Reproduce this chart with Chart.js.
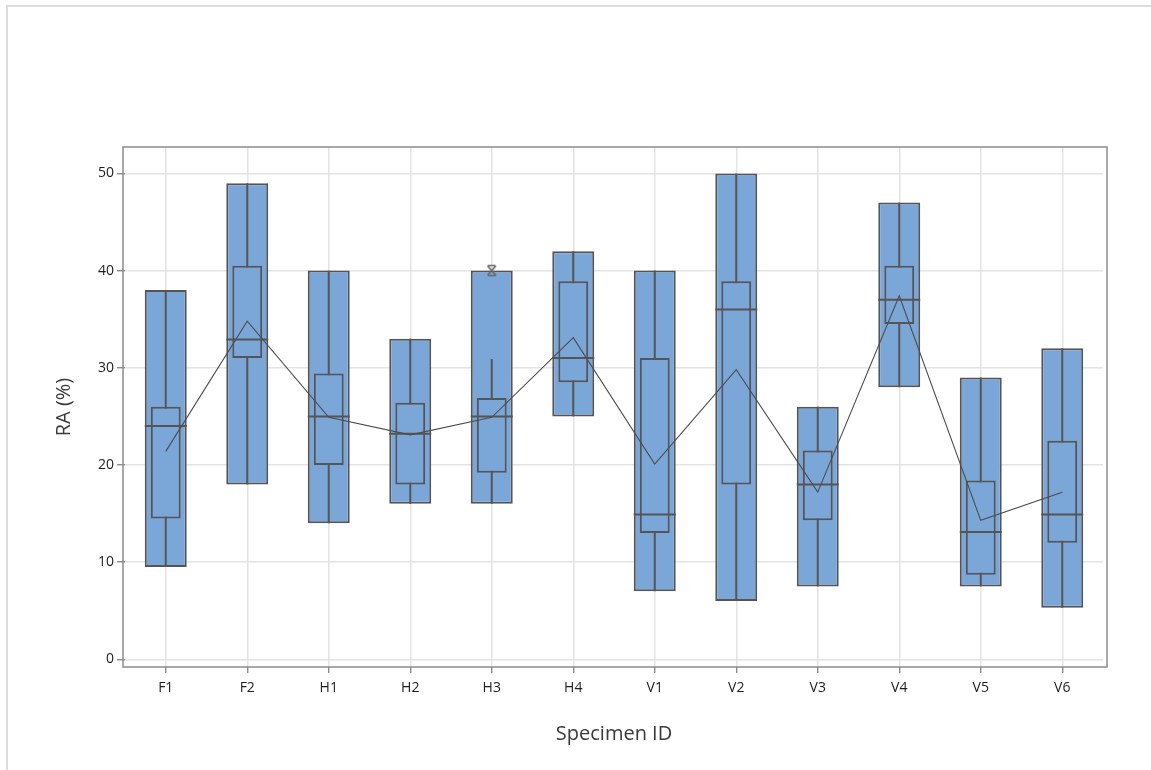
<!DOCTYPE html>
<html>
<head>
<meta charset="utf-8">
<script src="https://cdn.jsdelivr.net/npm/chart.js@4.4.1/dist/chart.umd.min.js"></script>
<style>
  html, body { margin: 0; padding: 0; background: #fff; }
  #wrap { position: relative; width: 1151px; height: 770px; }
  #edge { position: absolute; left: 6px; top: 5px; right: 0; bottom: 0;
          border-top: 2px solid #dcdcdc; border-left: 2px solid #dcdcdc; pointer-events: none; }
</style>
</head>
<body>
<div id="wrap">
  <canvas id="chart" width="1151" height="770"></canvas>
  <div id="edge"></div>
</div>
<script>
// Specimens and RA (%) summary statistics per specimen
const specimens   = ['F1', 'F2', 'H1', 'H2', 'H3', 'H4', 'V1', 'V2', 'V3', 'V4', 'V5', 'V6'];
const rangeMin    = [9.5, 18.0, 14.0, 16.0, 16.0, 25.0, 7.0, 6.0, 7.5, 28.0, 7.5, 5.3];
const rangeMax    = [38.0, 49.0, 40.0, 33.0, 40.0, 42.0, 40.0, 50.0, 26.0, 47.0, 29.0, 32.0];
const q1          = [14.5, 31.0, 20.0, 18.0, 19.2, 28.5, 13.0, 18.0, 14.3, 34.5, 8.7, 12.0];
const q3          = [26.0, 40.5, 29.4, 26.4, 26.9, 38.9, 31.0, 38.9, 21.5, 40.5, 18.4, 22.5];
const medians     = [24.0, 32.9, 25.0, 23.2, 25.0, 31.0, 14.9, 36.0, 18.0, 37.0, 13.1, 14.9];
const means       = [21.4, 34.8, 24.9, 23.1, 24.9, 33.1, 20.1, 29.8, 17.2, 37.4, 14.3, 17.2];
const whiskerLow  = [9.5, 18.0, 14.0, 16.0, 16.0, 25.0, 7.0, 6.0, 7.5, 28.0, 7.5, 5.3];
const whiskerHigh = [38.0, 49.0, 40.0, 33.0, 30.9, 42.0, 40.0, 50.0, 26.0, 47.0, 29.0, 32.0];
const outliers    = [null, null, null, null, 40.0, null, null, null, null, null, null, null];
const yTicks      = [0, 10, 20, 30, 40, 50];

const FILL = '#7ba6d8';
const EDGE = '#555555';
const FONT = "'Open Sans', 'Noto Sans', 'DejaVu Sans', sans-serif";

// Asterisk-style outlier symbol: an X closed by short bars at top and bottom
function outlierSymbol() {
  const c = document.createElement('canvas');
  c.width = 13; c.height = 13;
  const g = c.getContext('2d');
  g.strokeStyle = '#666666';
  g.lineWidth = 1.7;
  g.beginPath();
  g.moveTo(2.5, 2); g.lineTo(10.5, 11);
  g.moveTo(10.5, 2); g.lineTo(2.5, 11);
  g.moveTo(2.5, 1.5); g.lineTo(10.5, 1.5);
  g.moveTo(2.5, 11.5); g.lineTo(10.5, 11.5);
  g.stroke();
  return c;
}

// Whiskers go over the range boxes, medians over the IQR boxes
const boxParts = {
  id: 'boxParts',
  afterDatasetDraw(chart, args) {
    const ctx = chart.ctx;
    const y = chart.scales.y;
    const rangeBars = chart.getDatasetMeta(0).data;
    ctx.save();
    ctx.strokeStyle = EDGE;
    ctx.lineWidth = 2;
    if (args.index === 0) {
      rangeBars.forEach((bar, i) => {
        ctx.beginPath();
        ctx.moveTo(bar.x, y.getPixelForValue(whiskerLow[i]));
        ctx.lineTo(bar.x, y.getPixelForValue(whiskerHigh[i]));
        ctx.stroke();
      });
    } else if (args.index === 1) {
      rangeBars.forEach((bar, i) => {
        const py = y.getPixelForValue(medians[i]);
        ctx.beginPath();
        ctx.moveTo(bar.x - bar.width / 2, py);
        ctx.lineTo(bar.x + bar.width / 2, py);
        ctx.stroke();
      });
    }
    ctx.restore();
  }
};

// Dark frame around the plotting region, a little wider than the category band
const plotFrame = {
  id: 'plotFrame',
  afterDraw(chart) {
    const a = chart.chartArea;
    const ctx = chart.ctx;
    const left = a.left - 2, right = a.right + 4;
    ctx.save();
    ctx.strokeStyle = '#8c8c8c';
    ctx.lineWidth = 1.5;
    ctx.strokeRect(left, a.top, right - left, a.bottom - a.top);
    ctx.restore();
  }
};

new Chart(document.getElementById('chart'), {
  data: {
    labels: specimens,
    datasets: [
      {
        type: 'bar', label: 'Range', order: 3, grouped: false,
        data: specimens.map((_, i) => [rangeMin[i], rangeMax[i]]),
        backgroundColor: FILL, borderColor: EDGE, borderWidth: 2, borderSkipped: false,
        barPercentage: 0.515, categoryPercentage: 1.0
      },
      {
        type: 'bar', label: 'IQR', order: 2, grouped: false,
        data: specimens.map((_, i) => [q1[i], q3[i]]),
        backgroundColor: FILL, borderColor: EDGE, borderWidth: 2, borderSkipped: false,
        barPercentage: 0.366, categoryPercentage: 1.0
      },
      {
        type: 'line', label: 'Mean', order: 1,
        data: means,
        borderColor: '#4d4d4d', borderWidth: 1.1, pointRadius: 0, tension: 0, fill: false
      },
      {
        type: 'line', label: 'Outlier', order: 0,
        data: outliers, showLine: false,
        pointStyle: outlierSymbol(), pointRadius: 6
      }
    ]
  },
  options: {
    responsive: false,
    animation: false,
    layout: { padding: { left: 0, top: 147, right: 48, bottom: 0 } },
    plugins: { legend: { display: false }, tooltip: { enabled: false } },
    scales: {
      x: {
        type: 'category',
        offset: true,
        grid: { offset: false, color: '#e4e4e4', lineWidth: 1.5, tickColor: '#7a7a7a', tickLength: 6, tickWidth: 1.2 },
        border: { display: false },
        ticks: { color: '#1e1e1e', font: { family: FONT, size: 14 }, padding: 7, maxRotation: 0 },
        title: { display: true, text: 'Specimen ID', color: '#3a3a3a',
                 font: { family: FONT, size: 20 }, padding: { top: 0, bottom: 24 } },
        afterFit(axis) { axis.height = 103; }
      },
      y: {
        type: 'linear',
        min: -0.79, max: 52.72,
        afterBuildTicks(axis) { axis.ticks = yTicks.map(v => ({ value: v })); },
        grid: { color: '#e4e4e4', lineWidth: 1.5, tickColor: '#7a7a7a', tickLength: 8, tickWidth: 1.2 },
        border: { display: false },
        ticks: { color: '#1e1e1e', font: { family: FONT, size: 14 }, padding: 3 },
        title: { display: true, text: 'RA (%)', color: '#3a3a3a',
                 font: { family: FONT, size: 20 }, padding: { top: 52, bottom: 0 } },
        afterFit(axis) { axis.width = 125; }
      }
    }
  },
  plugins: [boxParts, plotFrame]
});
</script>
</body>
</html>
